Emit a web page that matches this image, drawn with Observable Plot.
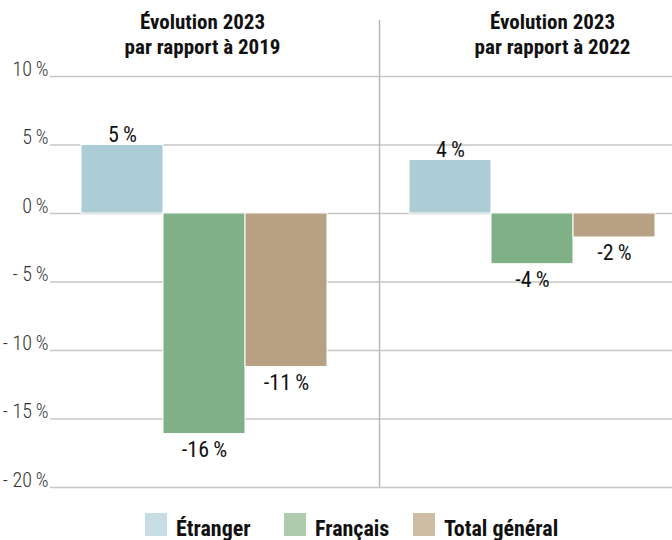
<!DOCTYPE html>
<html>
<head>
<meta charset="utf-8">
<script src="https://cdn.jsdelivr.net/npm/d3@7"></script>
<script src="https://cdn.jsdelivr.net/npm/@observablehq/plot@0.6"></script>
<style>
  html, body { margin: 0; padding: 0; background: #fff; }
  body { width: 672px; height: 540px; overflow: hidden; position: relative; font-family: "Roboto Condensed", "Liberation Sans Narrow", "DejaVu Sans Condensed", "DejaVu Sans", sans-serif; }
  #legend { position: absolute; left: 0; top: 513px; width: 672px; height: 27px; }
  .item { position: absolute; top: 0; display: flex; align-items: center; }
  .sw { width: 22px; height: 23px; margin-right: 9px; }
  .lab { font-weight: bold; font-size: 22px; color: #111; line-height: 23px; position: relative; top: 4px; }
</style>
</head>
<body>
<div id="chart"></div>
<div id="legend"></div>
<script>
const panels = ["2019", "2022"];
const categories = ["Étranger", "Français", "Total général"];
const values2019 = [5, -16.1, -11.2];
const values2022 = [3.9, -3.7, -1.75];
const titleLine1 = ["Évolution 2023", "Évolution 2023"];
const titleLine2 = ["par rapport à 2019", "par rapport à 2022"];
const yTicks = [-20, -15, -10, -5, 0, 5, 10];
const barColors = ["#acccd6", "#80b186", "#b8a083"];
const legendColors = ["#c5dde3", "#aecbae", "#cdbda5"];

const FONT = '"Roboto Condensed", "Liberation Sans Narrow", "DejaVu Sans Condensed", "DejaVu Sans", sans-serif';

const rows = [];
[values2019, values2022].forEach((vals, p) => {
  vals.forEach((v, i) => rows.push({panel: panels[p], category: categories[i], key: panels[p] + "|" + categories[i], value: v}));
});
const xDomain = [...categories.map(c => "2019|" + c), "gap", ...categories.map(c => "2022|" + c)];
const titles = panels.map((p, i) => ({key: p + "|" + categories[1], text: titleLine1[i] + "\n" + titleLine2[i], panel: p}));
const fmtTick = d => d < 0 ? `- ${-d}\u2009%` : `${d}\u2009%`;
const fmtLab = d => `${Math.round(d)}\u2009%`;

const chart = Plot.plot({
  width: 672,
  height: 500,
  marginTop: 76,
  marginBottom: 13,
  marginLeft: 50,
  marginRight: 0,
  style: {fontFamily: FONT, background: "#fff", overflow: "visible"},
  x: {domain: xDomain, paddingInner: 0, paddingOuter: 0.27, align: 0.65, axis: null},
  y: {domain: [-20, 10], axis: null, label: null},
  color: {domain: categories, range: barColors},
  marks: [
    Plot.ruleY(yTicks, {stroke: "#c6c6c6", strokeWidth: 1.5}),
    Plot.ruleX(["gap"], {stroke: "#b8b8b8", strokeWidth: 1.5, dx: 11, insetTop: -56}),
    Plot.axisY({ticks: yTicks, tickFormat: fmtTick, tickSize: 0, tickPadding: 2, fontSize: 20, fill: "#333", fontWeight: 300, anchor: "left", dy: -7, label: null}),
    Plot.barY(rows, {x: "key", y: "value", fill: "category", stroke: "white", strokeWidth: 1}),
    Plot.text(rows.filter(d => d.value > 0), {x: "key", y: "value", text: d => fmtLab(d.value), lineAnchor: "bottom", dy: -3, fontSize: 22, fill: "#111"}),
    Plot.text(rows.filter(d => d.value < 0), {x: "key", y: "value", text: d => fmtLab(d.value), lineAnchor: "top", dy: 7, fontSize: 22, fill: "#111"}),
    Plot.text(titles.filter(d => d.panel === "2019"), {x: "key", text: "text", frameAnchor: "top", lineAnchor: "top", dy: -66, dx: -2, fontSize: 21, fontWeight: "bold", fill: "#111", lineHeight: 1.22}),
    Plot.text(titles.filter(d => d.panel === "2022"), {x: "key", text: "text", frameAnchor: "top", lineAnchor: "top", dy: -66, dx: 20, fontSize: 21, fontWeight: "bold", fill: "#111", lineHeight: 1.22})
  ]
});
document.getElementById("chart").appendChild(chart);

const legend = document.getElementById("legend");
const legendLeft = [145, 284, 413];
categories.forEach((c, i) => {
  const it = document.createElement("div");
  it.className = "item";
  it.style.left = legendLeft[i] + "px";
  const sw = document.createElement("div");
  sw.className = "sw";
  sw.style.background = legendColors[i];
  const lab = document.createElement("span");
  lab.className = "lab";
  lab.textContent = c;
  it.appendChild(sw);
  it.appendChild(lab);
  legend.appendChild(it);
});
</script>
</body>
</html>
